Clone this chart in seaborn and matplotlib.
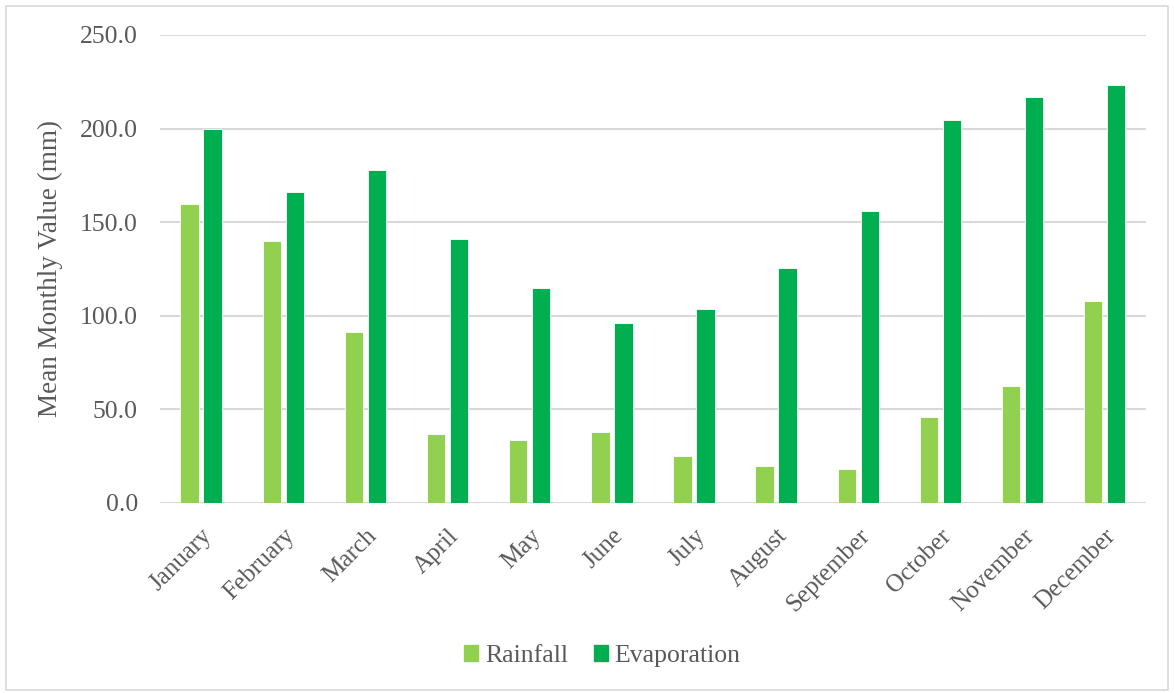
import matplotlib.pyplot as plt
import matplotlib.patches as mpatches
import pandas as pd
import seaborn as sns

months = ["January", "February", "March", "April", "May", "June",
          "July", "August", "September", "October", "November", "December"]
rainfall = [159.9, 140.1, 91.4, 36.7, 33.3, 37.8, 25.0, 19.7, 17.9, 45.9, 62.5, 107.7]
evaporation = [199.7, 166.0, 177.7, 140.9, 114.9, 96.2, 103.3, 125.7, 155.9, 204.8, 217.1, 223.1]
y_ticks = [0, 50, 100, 150, 200, 250]

df = pd.DataFrame({
    "Month": months * 2,
    "Value": rainfall + evaporation,
    "Series": ["Rainfall"] * len(months) + ["Evaporation"] * len(months),
})

sns.set_theme(style="white")
plt.rcParams["font.family"] = ["Liberation Serif", "DejaVu Serif"]
text_col = "#595959"
grid_col = "#d9d9d9"
colors = {"Rainfall": "#92D050", "Evaporation": "#00B050"}

fig = plt.figure(figsize=(11.74, 6.93), dpi=100)
ax = fig.add_axes([0.1363, 0.2746, 0.976 - 0.1363, 0.9495 - 0.2746])

sns.barplot(data=df, x="Month", y="Value", hue="Series", order=months,
            palette=colors, saturation=1,
            width=0.56, gap=0.2, edgecolor="white", linewidth=0.6,
            legend=False, ax=ax)

ax.set_ylim(0, 250)
ax.set_xlim(-0.5, len(months) - 0.5)
ax.set_yticks(y_ticks)
ax.set_yticklabels([f"{v:.1f}" for v in y_ticks], fontsize=18.5, color=text_col)
ax.yaxis.grid(True, color=grid_col, linewidth=1.5)
ax.set_axisbelow(True)
for s in ax.spines.values():
    s.set_visible(False)
ax.tick_params(axis="both", length=0)
ax.tick_params(axis="y", pad=16)
ax.set_xticks(range(len(months)))
ax.set_xticklabels(months, rotation=45, ha="right", rotation_mode="anchor",
                   fontsize=18, color=text_col)
ax.tick_params(axis="x", pad=16)
ax.set_xlabel("")
ax.set_ylabel("Mean Monthly Value (mm)", fontsize=19.5, color=text_col, labelpad=12)

handles = [mpatches.Patch(color=colors["Rainfall"], label="Rainfall"),
           mpatches.Patch(color=colors["Evaporation"], label="Evaporation")]
fig.legend(handles=handles, loc="center", bbox_to_anchor=(0.513, 0.053), ncol=2,
           frameon=False, fontsize=18.5, labelcolor=text_col,
           handlelength=0.55, handleheight=0.55, handletextpad=0.25, columnspacing=1.0)

fig.patches.append(mpatches.Rectangle((6 / 1174, 3 / 693), 1162 / 1174, 684 / 693,
                                      transform=fig.transFigure, fill=False,
                                      edgecolor=grid_col, linewidth=1.2))

fig.savefig("out.png", dpi=100)
